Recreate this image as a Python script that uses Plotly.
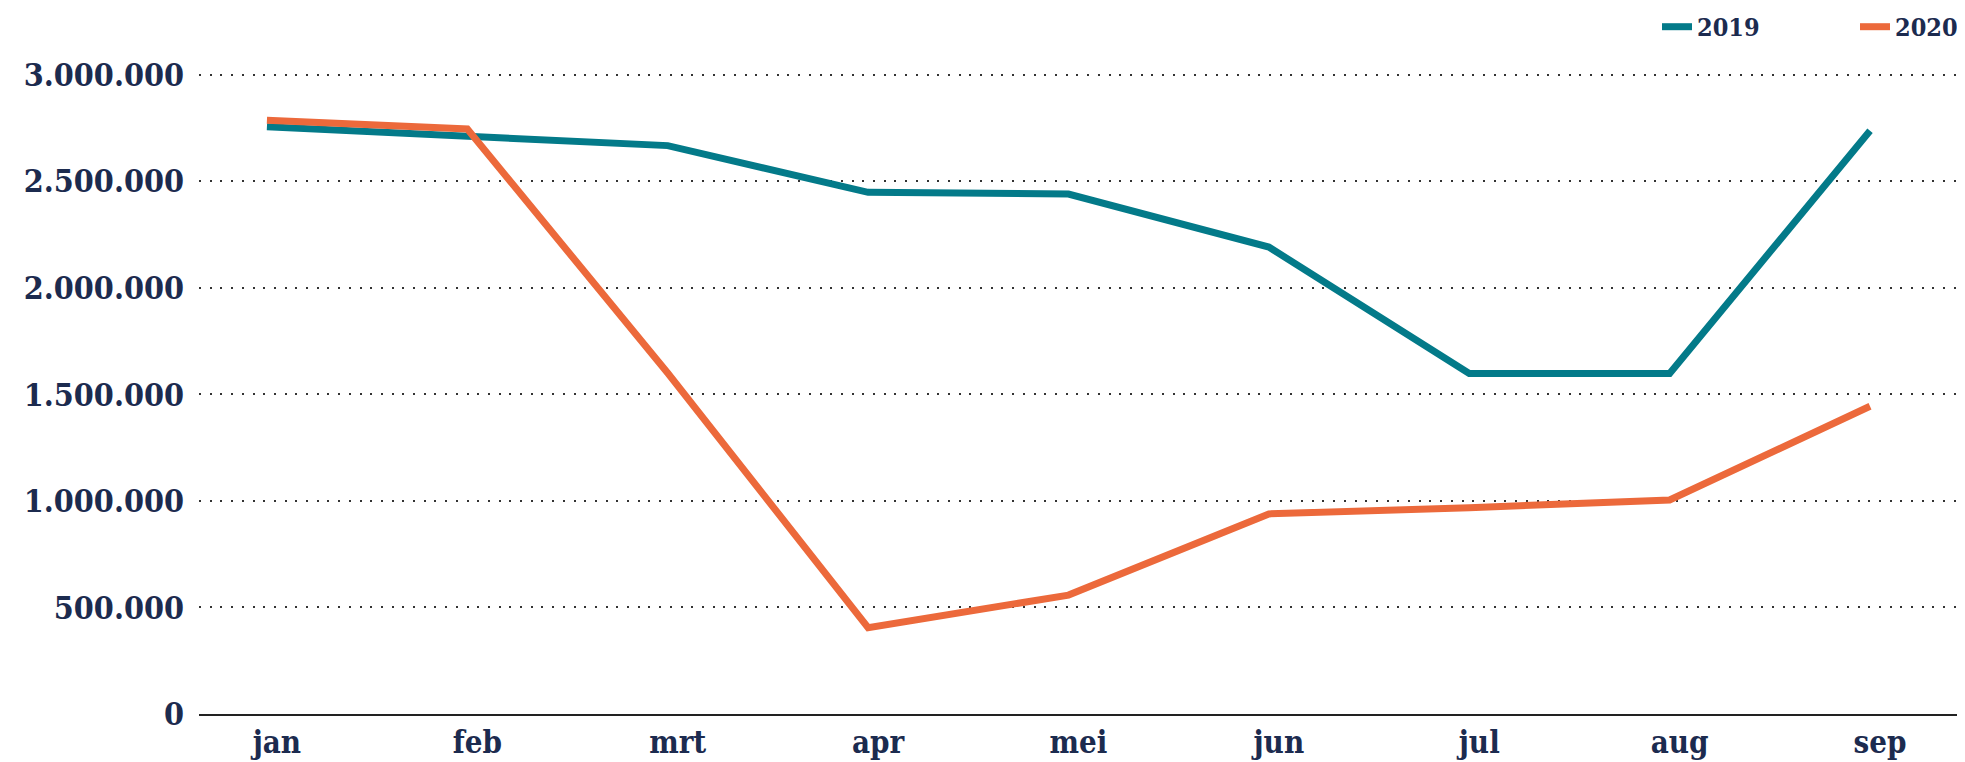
import plotly.graph_objects as go

months = ["jan", "feb", "mrt", "apr", "mei", "jun", "jul", "aug", "sep"]
values_2019 = [2755000, 2712000, 2667000, 2448000, 2440000, 2191000, 1598000, 1598000, 2737000]
values_2020 = [2786000, 2745000, 1600000, 405000, 558000, 939000, 968000, 1004000, 1444000]
y_ticks = [0, 500000, 1000000, 1500000, 2000000, 2500000, 3000000]

TEAL = "#037a89"
ORANGE = "#ec693b"
NAVY = "#1c2b4f"
FONT = "DejaVu Serif Condensed, DejaVu Serif, serif"

fig = go.Figure()
fig.add_trace(go.Scatter(x=months, y=values_2019, mode="lines", name="2019",
                         line=dict(color=TEAL, width=7)))
fig.add_trace(go.Scatter(x=months, y=values_2020, mode="lines", name="2020",
                         line=dict(color=ORANGE, width=7)))

fig.update_layout(
    width=1957, height=754,
    margin=dict(l=191, r=0, t=56, b=48, autoexpand=False),
    paper_bgcolor="white", plot_bgcolor="white",
    separators=",.",
    font=dict(family=FONT, color=NAVY, size=32),
    showlegend=True,
    legend=dict(orientation="h", x=0.8256, xanchor="left", y=1.057, yanchor="middle",
                font=dict(size=25, color=NAVY, family=FONT, weight="bold"),
                entrywidth=153, entrywidthmode="pixels",
                traceorder="normal", bgcolor="rgba(0,0,0,0)"),
)
fig.update_xaxes(
    type="category", range=[-0.339, 8.474], automargin=False,
    showgrid=False, zeroline=False,
    showline=True, linecolor="#222222", linewidth=2,
    ticks="", ticklabelshift=10, ticklabelstandoff=0,
    tickfont=dict(size=31, color=NAVY, family=FONT, weight="bold"),
)
fig.update_yaxes(
    range=[0, 3050000], automargin=False,
    tickvals=y_ticks, tickformat=",.0f",
    showgrid=True, gridcolor="#333333", gridwidth=2, griddash="2px,8.7px",
    zeroline=False, showline=False, ticks="", ticklabelstandoff=14,
    tickfont=dict(size=32, color=NAVY, family=FONT, weight="bold"),
)

fig.write_html("out.html")
